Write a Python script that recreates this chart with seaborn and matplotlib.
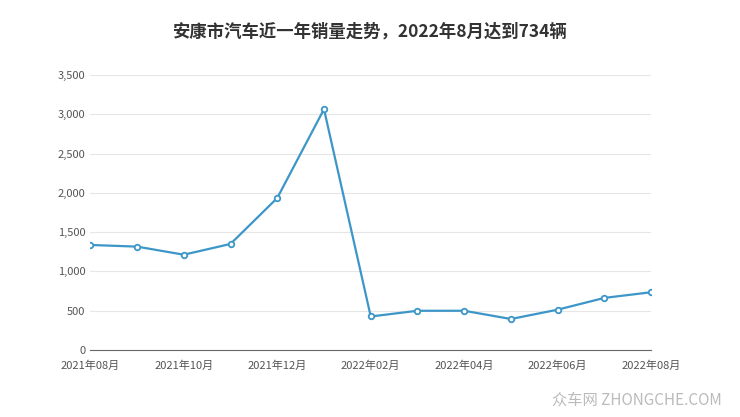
import matplotlib
matplotlib.use("Agg")
import matplotlib.pyplot as plt
import seaborn as sns
import pandas as pd
from matplotlib.ticker import FuncFormatter

months = ["2021年08月","2021年09月","2021年10月","2021年11月","2021年12月","2022年01月",
          "2022年02月","2022年03月","2022年04月","2022年05月","2022年06月","2022年07月","2022年08月"]
sales = [1336, 1315, 1212, 1349, 1934, 3065, 425, 498, 498, 393, 512, 662, 734]
title = "安康市汽车近一年销量走势，2022年8月达到734辆"

sns.set_style("white")
plt.rcParams['font.family'] = ['Noto Sans CJK SC', 'DejaVu Sans']

df = pd.DataFrame({"idx": range(len(months)), "sales": sales})
fig = plt.figure(figsize=(7.4, 4.17), dpi=100)
ax = fig.add_axes([0.122, 0.161, 0.758, 0.659])
color = "#3d96c8"
sns.lineplot(data=df, x="idx", y="sales", ax=ax, color=color, linewidth=1.6,
             marker="o", markersize=4, markerfacecolor="white", markeredgecolor=color, markeredgewidth=1.3)
ax.set_xlim(0, len(months)-1)
ax.set_ylim(0, 3500)
ax.set_yticks(range(0, 3501, 500))
ax.yaxis.set_major_formatter(FuncFormatter(lambda v, p: f"{int(v):,}"))
ax.set_xticks(range(0, len(months), 2))
ax.set_xticklabels(months[::2])
ax.grid(axis="y", color="#e6e6e6", linewidth=0.8)
for s in ["top", "right", "left"]:
    ax.spines[s].set_visible(False)
ax.spines["bottom"].set_color("#666666")
ax.tick_params(axis="both", labelsize=8, colors="#555555", length=0)
ax.tick_params(axis="x", length=4, color="#666666")
ax.set_xlabel("")
ax.set_ylabel("")
fig.text(0.5, 0.925, title, ha="center", va="center", fontsize=12.5, fontweight="bold", color="#333333")
fig.text(0.975, 0.04, "众车网 ZHONGCHE.COM", ha="right", va="center", fontsize=11, color="#bbbbbb")
fig.savefig("out.png", dpi=100)
